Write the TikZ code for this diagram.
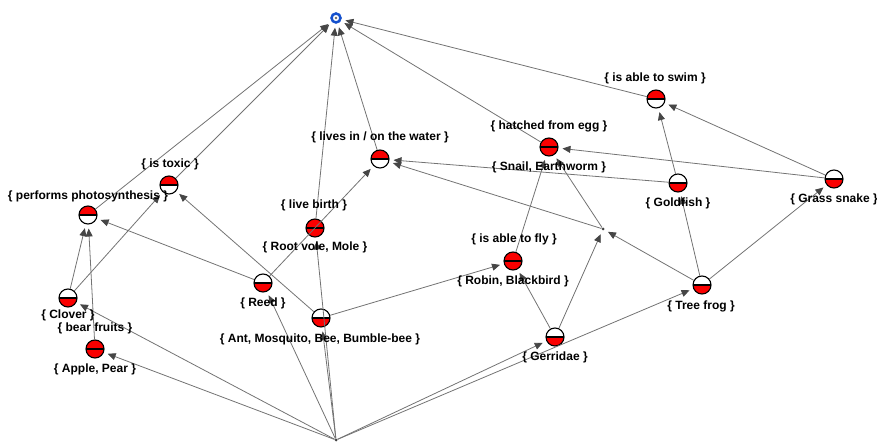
\documentclass[tikz,border=0pt]{standalone}
\usepackage{fontspec}
\setmainfont{Liberation Sans}
\usetikzlibrary{arrows.meta}
\definecolor{cred}{RGB}{250,0,0}
\definecolor{edgec}{RGB}{115,115,115}
\definecolor{tipc}{RGB}{70,70,70}
\definecolor{topblue}{RGB}{20,80,205}
\tikzset{
  concept/.style={circle, draw=black, line width=1.1pt, minimum size=18pt, inner sep=0pt, fill=white},
  upred/.style={concept, path picture={\fill[cred] (path picture bounding box.north west) rectangle (path picture bounding box.east);
      \draw[line width=1.4pt] (path picture bounding box.west) -- (path picture bounding box.east);}},
  lowred/.style={concept, path picture={\fill[cred] (path picture bounding box.west) rectangle (path picture bounding box.south east);
      \draw[line width=1.4pt] (path picture bounding box.west) -- (path picture bounding box.east);}},
  fullred/.style={concept, fill=cred, path picture={\draw[line width=1.4pt] (path picture bounding box.west) -- (path picture bounding box.east);}},
  lab/.style={font=\bfseries\fontsize{12}{14}\selectfont, inner sep=0pt, text=black},
  edge/.style={draw=edgec, line width=0.8pt, -{Triangle[length=8pt,width=7pt,color=tipc]}, shorten >=4pt},
  pt/.style={circle, fill=black!75, inner sep=0pt, minimum size=3pt},
  topc/.style={circle, draw=topblue, line width=2.5pt, fill=white, minimum size=9pt, inner sep=0pt,
      path picture={\fill[black!60] (path picture bounding box.center) circle (1.3pt);}}
}
\begin{document}
\begin{tikzpicture}[x=1pt,y=-1pt]
\useasboundingbox (0,0) rectangle (877,443);
% nodes
\node[topc] (top) at (336,18) {};
\node[pt] (bot) at (336,440) {};
\node[pt] (dot) at (603,229) {};
\node[upred] (swim) at (656,99) {};
\node[fullred] (hatch) at (549,147) {};
\node[lowred] (gold) at (678,183) {};
\node[lowred] (snake) at (834,179) {};
\node[upred] (water) at (380,159) {};
\node[upred] (toxic) at (169,185) {};
\node[upred] (photo) at (88,215) {};
\node[fullred] (live) at (315,228) {};
\node[lowred] (reed) at (263,283) {};
\node[lowred] (ant) at (321,318) {};
\node[lowred] (clover) at (68,298) {};
\node[fullred] (apple) at (95,349) {};
\node[fullred] (robin) at (513,261) {};
\node[lowred] (gerr) at (555,337) {};
\node[lowred] (tree) at (702,285) {};
% edges
\draw[edge] (photo) -- (top);
\draw[edge] (toxic) -- (top);
\draw[edge] (live) -- (top);
\draw[edge] (water) -- (top);
\draw[edge] (hatch) -- (top);
\draw[edge] (swim) -- (top);
\draw[edge] (clover) -- (photo);
\draw[edge] (clover) -- (toxic);
\draw[edge] (apple) -- (photo);
\draw[edge] (reed) -- (photo);
\draw[edge] (reed) -- (water);
\draw[edge] (ant) -- (toxic);
\draw[edge] (ant) -- (robin);
\draw[edge] (robin) -- (hatch);
\draw[edge] (dot) -- (hatch);
\draw[edge] (dot) -- (water);
\draw[edge] (gold) -- (water);
\draw[edge] (gold) -- (swim);
\draw[edge] (snake) -- (swim);
\draw[edge] (snake) -- (hatch);
\draw[edge] (tree) -- (gold);
\draw[edge] (tree) -- (snake);
\draw[edge] (tree) -- (dot);
\draw[edge] (gerr) -- (dot);
\draw[edge] (gerr) -- (robin);
\draw[edge] (bot) -- (apple);
\draw[edge] (bot) -- (clover);
\draw[edge] (bot) -- (reed);
\draw[edge] (bot) -- (ant);
\draw[edge] (bot) -- (live);
\draw[edge] (bot) -- (gerr);
\draw[edge] (bot) -- (tree);
% labels
\node[lab] (swimL) at (655,78) {\{ is able to swim \}};
\node[lab] (hatchL) at (549,126) {\{ hatched from egg \}};
\node[lab] (hatchO) at (549,167) {\{ Snail, Earthworm \}};
\node[lab] (goldL) at (678,203) {\{ Goldfish \}};
\node[lab] (snakeL) at (834,199) {\{ Grass snake \}};
\node[lab] (waterL) at (380,137) {\{ lives in / on the water \}};
\node[lab] (toxicL) at (170,164) {\{ is toxic \}};
\node[lab] (photoL) at (88,196) {\{ performs photosynthesis \}};
\node[lab] (liveL) at (314,205) {\{ live birth \}};
\node[lab] (liveO) at (315,247) {\{ Root vole, Mole \}};
\node[lab] (reedL) at (263,303) {\{ Reed \}};
\node[lab] (antL) at (320,339) {\{ Ant, Mosquito, Bee, Bumble-bee \}};
\node[lab] (cloverL) at (68,315.5) {\{ Clover \}};
\node[lab] (appleA) at (95,328.5) {\{ bear fruits \}};
\node[lab] (appleO) at (95,369) {\{ Apple, Pear \}};
\node[lab] (robinA) at (514,239) {\{ is able to fly \}};
\node[lab] (robinO) at (513,281) {\{ Robin, Blackbird \}};
\node[lab] (gerrL) at (555,357) {\{ Gerridae \}};
\node[lab] (treeL) at (701,306) {\{ Tree frog \}};
\end{tikzpicture}
\end{document}
